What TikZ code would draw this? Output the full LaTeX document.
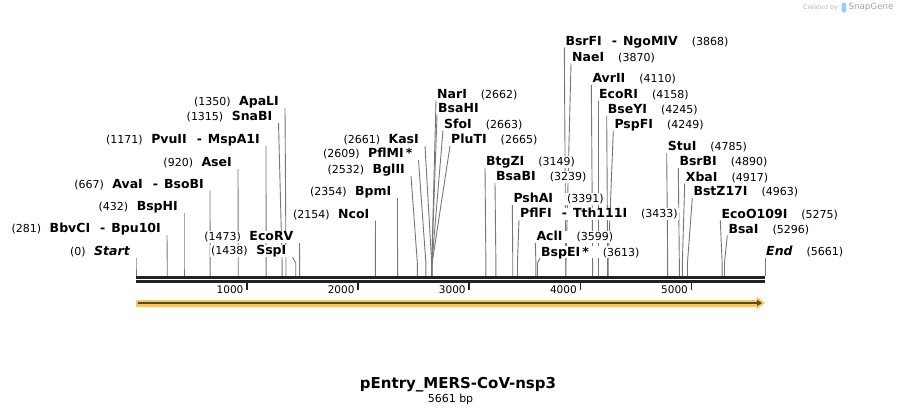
\documentclass[tikz,border=0pt]{standalone}
\usepackage{fontspec}
\setmainfont{DejaVu Sans}
\usepackage{tikz}
\usetikzlibrary{arrows.meta,calc,positioning}
\pgfdeclarelayer{bg}
\pgfsetlayers{bg,main}

\definecolor{leadgray}{RGB}{118,118,118}
\definecolor{rulerblack}{RGB}{34,34,34}
\definecolor{featfill}{RGB}{248,198,105}
\definecolor{featcore}{RGB}{88,72,42}
\definecolor{logogray}{RGB}{165,165,165}
\definecolor{logoblue}{RGB}{150,205,240}

\newcommand{\enz}[1]{{\fontsize{12.5}{14}\selectfont\bfseries #1}}
\newcommand{\loc}[1]{{\fontsize{11}{13}\selectfont #1}}
\newcommand{\lgap}{\hspace{8.5pt}}
\newcommand{\rgap}{\hspace{14pt}}
\newcommand{\cutdash}{\hspace{10pt}\enz{-}\hspace{6pt}}

\begin{document}
\begin{tikzpicture}[x=1pt, y=-1pt,
	site/.style={fill=white, inner xsep=1pt, inner ysep=0.5pt, text height=9.5pt, text depth=1.5pt},
	lsite/.style={site, anchor=south east, xshift=-5pt},
	rsite/.style={site, anchor=south west},
	leader/.style={draw=leadgray, line width=0.9pt, to path={-- ($(\tikztotarget)+(0,-13)$) -- (\tikztotarget)}}]
\tikzstyle{ruler}=[draw=rulerblack, line width=2.7pt]
\tikzstyle{tick}=[draw=rulerblack, line width=1.8pt]

\useasboundingbox (0,0) rectangle (901,415);

% cut sites on the sequence, 9 bp per pixel
\foreach \p in {0,281,432,667,920,1171,1315,1350,1438,1473,2154,2354,2532,2609,2661,2662,2663,2665,3149,3239,3391,3433,3599,3613,3868,3870,4110,4158,4245,4249,4785,4890,4917,4963,5275,5296,5661}
	\coordinate (c\p) at ({136+\p/9},276);

% enzymes left of their cut
\node[lsite]	(startlbl)	at (136,257.5)		{\loc{(0)}\lgap\enz{\itshape Start}};
\node[lsite]	(bbvci)		at (167,235)		{\loc{(281)}\lgap\enz{BbvCI}\cutdash\enz{Bpu10I}};
\node[lsite]	(bsphi)		at (184,213)		{\loc{(432)}\lgap\enz{BspHI}};
\node[lsite]	(avai)		at (210,190.5)		{\loc{(667)}\lgap\enz{AvaI}\cutdash\enz{BsoBI}};
\node[lsite]	(asei)		at (238,169)		{\loc{(920)}\lgap\enz{AseI}};
\node[lsite]	(pvuii)		at (266,145.5)		{\loc{(1171)}\lgap\enz{PvuII}\cutdash\enz{MspA1I}};
\node[lsite]	(snabi)		at (278.5,123)		{\loc{(1315)}\lgap\enz{SnaBI}};
\node[lsite]	(apali)		at (285,108)		{\loc{(1350)}\lgap\enz{ApaLI}};
\node[lsite]	(sspi)		at (292.5,257)		{\loc{(1438)}\lgap\enz{SspI}};
\node[lsite]	(ecorv)		at (299.5,243)		{\loc{(1473)}\lgap\enz{EcoRV}};
\node[lsite]	(ncoi)		at (375.5,220.5)	{\loc{(2154)}\lgap\enz{NcoI}};
\node[lsite]	(bpmi)		at (397.5,198)		{\loc{(2354)}\lgap\enz{BpmI}};
\node[lsite]	(bglii)		at (411,176)		{\loc{(2532)}\lgap\enz{BglII}};
\node[lsite]	(pflmi)		at (418.5,160)		{\loc{(2609)}\lgap\enz{PflMI\,*}};
\node[lsite]	(kasi)		at (425,146)		{\loc{(2661)}\lgap\enz{KasI}};

% enzymes right of their cut
\node[rsite]	(nari)		at (436,100.5)		{\enz{NarI}\rgap\loc{(2662)}};
\node[rsite]	(bsahi)		at (437,115)		{\enz{BsaHI}};
\node[rsite]	(sfoi)		at (443,130.5)		{\enz{SfoI}\rgap\loc{(2663)}};
\node[rsite]	(pluti)		at (450,146)		{\enz{PluTI}\rgap\loc{(2665)}};
\node[rsite]	(btgzi)		at (485,168)		{\enz{BtgZI}\rgap\loc{(3149)}};
\node[rsite]	(bsabi)		at (495,183)		{\enz{BsaBI}\rgap\loc{(3239)}};
\node[rsite]	(pshai)		at (512.3,205)		{\enz{PshAI}\rgap\loc{(3391)}};
\node[rsite]	(pflfi)		at (519,220)		{\enz{PflFI}\cutdash\enz{Tth111I}\rgap\loc{(3433)}};
\node[rsite]	(acli)		at (535.3,243)		{\enz{AclI}\rgap\loc{(3599)}};
\node[rsite]	(bspei)		at (540,258.5)		{\enz{BspEI\,*}\rgap\loc{(3613)}};
\node[rsite]	(bsrfi)		at (564.3,47.5)		{\enz{BsrFI}\cutdash\enz{NgoMIV}\rgap\loc{(3868)}};
\node[rsite]	(naei)		at (571,63.5)		{\enz{NaeI}\rgap\loc{(3870)}};
\node[rsite]	(avrii)		at (591.3,85)		{\enz{AvrII}\rgap\loc{(4110)}};
\node[rsite]	(ecori)		at (598,100.5)		{\enz{EcoRI}\rgap\loc{(4158)}};
\node[rsite]	(bseyi)		at (606.7,115.5)	{\enz{BseYI}\rgap\loc{(4245)}};
\node[rsite]	(pspfi)		at (613.3,130.5)	{\enz{PspFI}\rgap\loc{(4249)}};
\node[rsite]	(stui)		at (666.7,153)		{\enz{StuI}\rgap\loc{(4785)}};
\node[rsite]	(bsrbi)		at (678.3,168)		{\enz{BsrBI}\rgap\loc{(4890)}};
\node[rsite]	(xbai)		at (684.7,183.5)	{\enz{XbaI}\rgap\loc{(4917)}};
\node[rsite]	(bstz)		at (692.3,198)		{\enz{BstZ17I}\rgap\loc{(4963)}};
\node[rsite]	(ecoo)		at (720.3,220.5)	{\enz{EcoO109I}\rgap\loc{(5275)}};
\node[rsite]	(bsai)		at (727.3,235.5)	{\enz{BsaI}\rgap\loc{(5296)}};
\node[rsite]	(endlbl)	at (765,258)		{\enz{\itshape End}\rgap\loc{(5661)}};

\begin{pgfonlayer}{bg}
\path
	($(startlbl.south east)+(5,0)$)	edge[leader]	(c0)
	($(bbvci.south east)+(5,0)$)	edge[leader]	(c281)
	($(bsphi.south east)+(5,0)$)	edge[leader]	(c432)
	($(avai.south east)+(5,0)$)		edge[leader]	(c667)
	($(asei.south east)+(5,0)$)		edge[leader]	(c920)
	($(pvuii.south east)+(5,0)$)	edge[leader]	(c1171)
	($(snabi.south east)+(5,0)$)	edge[leader]	(c1315)
	($(apali.south east)+(5,0)$)	edge[leader]	(c1350)
	($(sspi.south east)+(5,0)$)		edge[leader]	(c1438)
	($(ecorv.south east)+(5,0)$)	edge[leader]	(c1473)
	($(ncoi.south east)+(5,0)$)		edge[leader]	(c2154)
	($(bpmi.south east)+(5,0)$)		edge[leader]	(c2354)
	($(bglii.south east)+(5,0)$)	edge[leader]	(c2532)
	($(pflmi.south east)+(5,0)$)	edge[leader]	(c2609)
	($(kasi.south east)+(5,0)$)		edge[leader]	(c2661)
	(nari.south west)		edge[leader]	(c2662)
	(bsahi.south west)		edge[leader]	(c2662)
	(sfoi.south west)		edge[leader]	(c2663)
	(pluti.south west)		edge[leader]	(c2665)
	(btgzi.south west)		edge[leader]	(c3149)
	(bsabi.south west)		edge[leader]	(c3239)
	(pshai.south west)		edge[leader]	(c3391)
	(pflfi.south west)		edge[leader]	(c3433)
	(acli.south west)		edge[leader]	(c3599)
	(bspei.south west)		edge[leader]	(c3613)
	(bsrfi.south west)		edge[leader]	(c3868)
	(naei.south west)		edge[leader]	(c3870)
	(avrii.south west)		edge[leader]	(c4110)
	(ecori.south west)		edge[leader]	(c4158)
	(bseyi.south west)		edge[leader]	(c4245)
	(pspfi.south west)		edge[leader]	(c4249)
	(stui.south west)		edge[leader]	(c4785)
	(bsrbi.south west)		edge[leader]	(c4890)
	(xbai.south west)		edge[leader]	(c4917)
	(bstz.south west)		edge[leader]	(c4963)
	(ecoo.south west)		edge[leader]	(c5275)
	(bsai.south west)		edge[leader]	(c5296)
	(endlbl.south west)		edge[leader]	(c5661)
;
\end{pgfonlayer}

% ruler
\coordinate (rs) at (136,277.3);
\coordinate (re) at (765,277.3);
\draw[ruler] (rs) -- (re);
\draw[ruler] ($(rs)+(0,4)$) -- ($(re)+(0,4)$);
\foreach \k in {1,...,5} {
	\coordinate (t\k) at ({136+\k*1000/9},282.5);
	\draw[tick] (t\k) -- ++(0,7);
	\node[anchor=base east, inner sep=0pt, font=\fontsize{10.5}{12}\selectfont] (tl\k) at ($(t\k)+(-3.5,10.8)$) {\k000};
}

% feature arrow
\coordinate (fs) at (136,303);
\coordinate (fe) at (765,303);
\draw[featfill, line width=7pt, -{Triangle[length=8.5pt,width=12.5pt]}] (fs) -- (fe);
\draw[featcore, line width=2pt, -{Triangle[length=5pt,width=6pt]}] ($(fs)+(2,0)$) -- ($(fe)+(-3,0)$);

% name and size
\node[inner sep=0pt, font=\fontsize{15}{18}\selectfont\bfseries] (title) at (458,384.5) {pEntry\_MERS-CoV-nsp3};
\node[inner sep=0pt, font=\fontsize{11}{13}\selectfont, below=1.5pt of title, xshift=-7.5pt] (size) {5661 bp};

% logo
\node[inner sep=0pt, anchor=east, text=logogray!80, font=\fontsize{6.3}{7}\selectfont] (made) at (838,7.5) {Created by};
\node[inner sep=0pt, fill=logoblue, rounded corners=1.5pt, minimum width=4.5pt, minimum height=10pt, right=3.5pt of made] (icon) {};
\node[inner sep=0pt, text=logogray, font=\fontsize{8.7}{10}\selectfont, right=2pt of icon] (brand) {SnapGene};

\end{tikzpicture}
\end{document}
